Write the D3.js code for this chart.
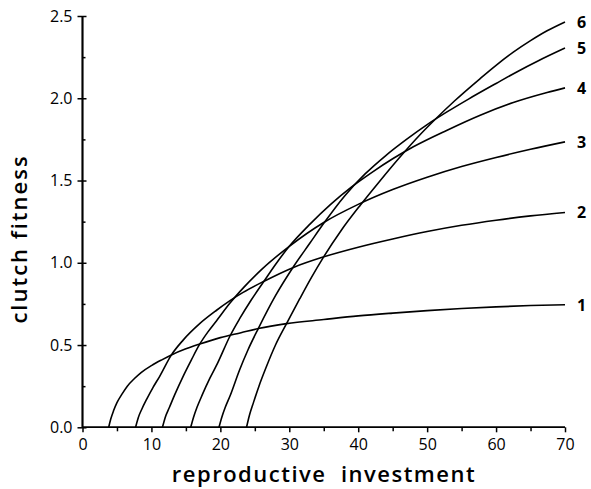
<!DOCTYPE html>
<html>
<head>
<meta charset="utf-8">
<script src="https://cdn.jsdelivr.net/npm/d3@7"></script>
<style>
  body { margin: 0; background: #fff; }
  svg { display: block; }
</style>
</head>
<body>
<svg id="chart" width="591" height="489"></svg>
<script>
// ---- data ----
const seriesNames = ["1", "2", "3", "4", "5", "6"];
const curve1 = [[3.8,0],[4.1,0.05],[4.5,0.10],[5,0.15],[5.7,0.20],[6.5,0.25],[7.5,0.295],[8.5,0.333],[10,0.375],[11.5,0.41],[12.9,0.44],[15,0.477],[17,0.506],[20,0.545],[23,0.575],[25.5,0.60],[29.6,0.63],[35,0.655],[40,0.677],[45,0.694],[50,0.709],[55,0.722],[60,0.732],[65,0.74],[70,0.745]];
const curve2 = [[7.7,0],[8.1,0.06],[8.6,0.11],[9.3,0.17],[10.2,0.24],[11.2,0.31],[12.9,0.44],[14.6,0.53],[17,0.63],[19.4,0.71],[21.4,0.77],[23.3,0.82],[26.2,0.885],[30.6,0.972],[34.9,1.035],[40,1.095],[45,1.145],[50,1.19],[55,1.228],[60,1.259],[65,1.285],[70,1.306]];
const curve3 = [[11.6,0],[12.0,0.06],[12.6,0.12],[13.4,0.20],[14.6,0.31],[15.8,0.41],[17,0.505],[18.2,0.58],[19.4,0.645],[21.4,0.755],[23.5,0.855],[26,0.96],[30,1.10],[35,1.245],[40,1.355],[45,1.445],[50,1.52],[55,1.585],[60,1.64],[65,1.69],[70,1.735]];
const curve4 = [[15.7,0],[16.1,0.06],[16.6,0.12],[17.4,0.20],[18.5,0.30],[19.6,0.39],[21.4,0.555],[22.8,0.66],[24.5,0.775],[26.2,0.88],[28,0.99],[30,1.10],[33,1.235],[36,1.355],[39,1.46],[42,1.55],[45,1.632],[48,1.705],[52.9,1.806],[57.7,1.897],[62.5,1.974],[67.4,2.035],[70,2.063]];
const curve5 = [[19.8,0],[20.2,0.06],[20.7,0.12],[21.4,0.19],[22.8,0.35],[24,0.47],[25.5,0.60],[28,0.80],[30.6,0.976],[33,1.12],[35,1.24],[38,1.405],[41,1.54],[44,1.652],[47,1.75],[50,1.84],[53,1.92],[56,1.995],[60,2.09],[63,2.16],[66,2.225],[70,2.305]];
const curve6 = [[23.8,0],[24.2,0.07],[24.8,0.15],[25.6,0.25],[26.6,0.36],[28,0.50],[29.6,0.63],[31.5,0.78],[33.2,0.91],[34.9,1.03],[37.5,1.195],[40.3,1.35],[43,1.49],[46,1.64],[49,1.78],[51,1.865],[54,1.985],[57.7,2.12],[60,2.2],[62.5,2.28],[65,2.35],[67.4,2.41],[70,2.464]];
const curves = [curve1, curve2, curve3, curve4, curve5, curve6];
const xMajorTicks = [0, 10, 20, 30, 40, 50, 60, 70];
const xMinorTicks = [5, 15, 25, 35, 45, 55, 65];
const yMajorTicks = [0, 0.5, 1.0, 1.5, 2.0, 2.5];
const yMinorTicks = [0.25, 0.75, 1.25, 1.75, 2.25];
const xTitle = "reproductive\u00a0\u00a0investment";
const yTitle = "clutch fitness";

// ---- drawing ----
const svg = d3.select("#chart");
const x = d3.scaleLinear().domain([0, 70]).range([82.5, 565]);
const y = d3.scaleLinear().domain([0, 2.5]).range([427.3, 16]);
const font = "'Open Sans', 'DejaVu Sans', sans-serif";

// x axis
const xAxis = svg.append("g").attr("transform", `translate(0,${y(0)})`);
xAxis.call(d3.axisBottom(x).tickValues(xMajorTicks).tickSize(5).tickPadding(6).tickFormat(d3.format("d")));
xAxis.append("g").call(d3.axisBottom(x).tickValues(xMinorTicks).tickSize(4).tickFormat(""));
xAxis.selectAll(".domain").attr("d", `M${x(0)},0H${x(70)}`);
xAxis.selectAll("text").style("font-family", font).style("font-size", "16px").attr("fill", "#000");

// y axis
const yAxis = svg.append("g").attr("transform", `translate(${x(0)},0)`);
yAxis.call(d3.axisLeft(y).tickValues(yMajorTicks).tickSize(5).tickPadding(5).tickFormat(d3.format(".1f")));
yAxis.append("g").call(d3.axisRight(y).tickValues(yMajorTicks).tickSize(4).tickFormat(""));
yAxis.append("g").call(d3.axisRight(y).tickValues(yMinorTicks).tickSize(3).tickFormat(""));
yAxis.selectAll(".domain").attr("d", `M0,${y(0)}V${y(2.5)}`);
yAxis.selectAll("text").style("font-family", font).style("font-size", "16px").attr("fill", "#000");
svg.selectAll(".domain, .tick line").attr("stroke", "#000").attr("stroke-width", 1.5);

// curves
const line = d3.line().x(d => x(d[0])).y(d => y(d[1])).curve(d3.curveMonotoneX);
svg.append("g").selectAll("path").data(curves).join("path")
  .attr("d", line).attr("fill", "none").attr("stroke", "#000").attr("stroke-width", 1.6);

// curve labels
svg.append("g").selectAll("text").data(curves).join("text")
  .attr("x", 577).attr("y", d => y(d[d.length - 1][1]) + 6)
  .text((d, i) => seriesNames[i])
  .style("font-family", font).style("font-size", "16px").style("font-weight", "bold");

// titles
svg.append("text").attr("x", 324).attr("y", 482).attr("text-anchor", "middle")
  .text(xTitle).style("font-family", font).style("font-size", "22px").style("font-weight", "600")
  .style("letter-spacing", "1.5px");
svg.append("text").attr("transform", "translate(27,239) rotate(-90)").attr("text-anchor", "middle")
  .text(yTitle).style("font-family", font).style("font-size", "22px").style("font-weight", "600")
  .style("letter-spacing", "2px");
</script>
</body>
</html>
